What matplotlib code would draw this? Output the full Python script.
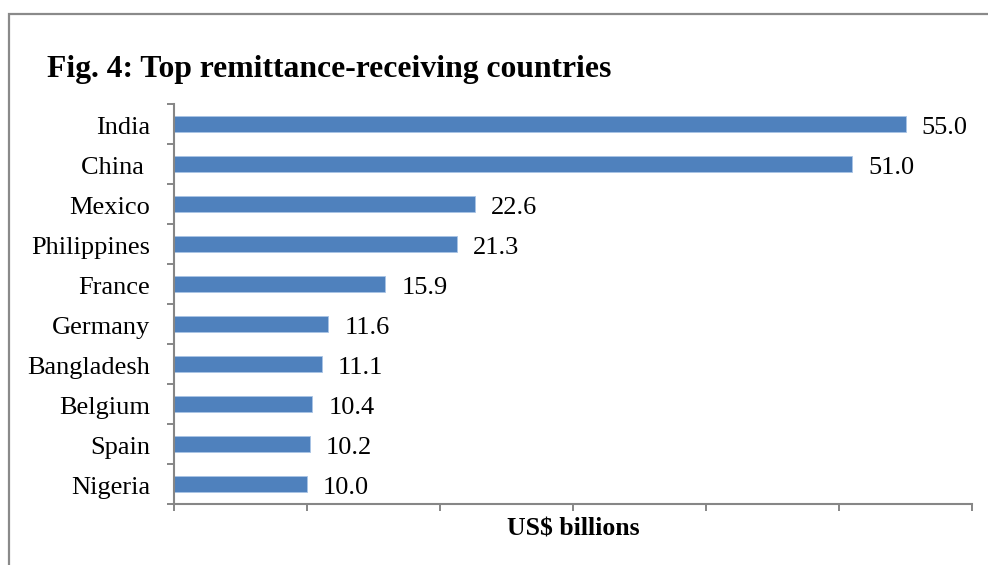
import matplotlib
matplotlib.use("Agg")
import matplotlib.pyplot as plt
import numpy as np
from matplotlib.patches import Rectangle

countries = ["India", "China ", "Mexico", "Philippines", "France",
             "Germany", "Bangladesh", "Belgium", "Spain", "Nigeria"]
remittances = [55.0, 51.0, 22.6, 21.3, 15.9, 11.6, 11.1, 10.4, 10.2, 10.0]

bar_color = "#4F81BD"
axis_gray = "#868686"

plt.rcParams["font.family"] = ["Liberation Serif", "DejaVu Serif"]

fig = plt.figure(figsize=(9.88, 5.65), dpi=100)
ax = fig.add_axes([174 / 988, 1 - 504 / 565, (972 - 174) / 988, 400 / 565])

# outer frame of the figure
fig.patches.append(Rectangle((9 / 988, -0.05), 1.2, 1 - 14 / 565 + 0.05,
                             transform=fig.transFigure, fill=False,
                             edgecolor="#8a8a8a", linewidth=1.6))

y = np.arange(len(countries))
ax.barh(y, remittances, height=0.4, color=bar_color, edgecolor="#a9c4e6",
        linewidth=0.6)

ax.set_xlim(0, 60)
ax.set_ylim(len(countries) - 0.5, -0.5)

for yi, v in zip(y, remittances):
    ax.text(v + 1.2, yi + 0.03, f"{v:.1f}", va="center_baseline", ha="left",
            fontsize=19)

ax.set_xticks(np.arange(0, 61, 10))
ax.set_xticklabels([])
ax.set_yticks(y + 0.03)
ax.set_yticklabels(countries, fontsize=19)
ax.tick_params(axis="y", which="major", length=0, pad=17)
ax.set_yticks(np.arange(-0.5, len(countries)), minor=True)
ax.tick_params(axis="y", which="minor", length=5, width=1.4, color=axis_gray)
ax.tick_params(axis="x", which="major", length=5, width=1.4, color=axis_gray)

for side in ("top", "right"):
    ax.spines[side].set_visible(False)
for side in ("left", "bottom"):
    ax.spines[side].set_color(axis_gray)
    ax.spines[side].set_linewidth(1.5)

ax.set_xlabel("US$ billions", fontsize=18.5, fontweight="bold", labelpad=1)

fig.text(47 / 988, 1 - 69 / 565, "Fig. 4: Top remittance-receiving countries",
         fontsize=22.8, fontweight="bold", va="center", ha="left")

fig.savefig("out.png", dpi=100)
